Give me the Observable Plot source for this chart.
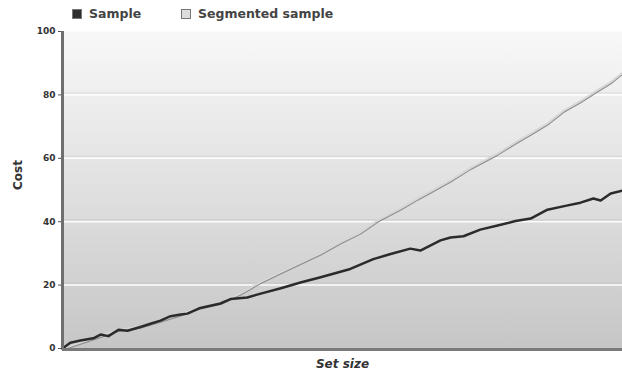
<!DOCTYPE html>
<html>
<head>
<meta charset="utf-8">
<script src="https://cdn.jsdelivr.net/npm/d3@7"></script>
<script src="https://cdn.jsdelivr.net/npm/@observablehq/plot@0.6"></script>
<style>
  html, body { margin: 0; padding: 0; background: #fff; }
  body { width: 622px; height: 374px; overflow: hidden; font-family: "DejaVu Sans", sans-serif; }
  #legend { height: 24px; position: relative; font-weight: bold; font-size: 12.5px; color: #444; }
  #legend .item { position: absolute; top: 6px; display: flex; align-items: center; }
  #legend .sw { width: 8px; height: 8px; margin-right: 7px; border: 1px solid #777; }
</style>
</head>
<body>
<div id="legend"></div>
<div id="chart"></div>
<script>
// Sample series: set size (arbitrary units 0..100) and cost
const sampleX = [0, 1.4, 3.2, 5.5, 6.8, 8.2, 10, 11.6, 13.9, 15.7, 17.5, 19.3, 21.1, 22.3, 24.6, 26.4, 28.2, 30, 33, 35.4, 39, 42.5, 46.1, 51.4, 55.5, 58.6, 62.1, 63.9, 67.5, 69.3, 71.6, 74.6, 77.7, 80.9, 83.6, 86.6, 89.8, 92.5, 94.8, 96.1, 97.9, 100];
const sampleY = [0, 1.8, 2.5, 3.2, 4.4, 3.9, 5.9, 5.6, 6.8, 7.8, 8.8, 10.2, 10.7, 11, 12.8, 13.5, 14.2, 15.6, 16.1, 17.3, 19, 20.8, 22.5, 25.1, 28.2, 29.8, 31.5, 30.9, 34.1, 35, 35.4, 37.5, 38.8, 40.2, 41, 43.8, 45, 46, 47.3, 46.7, 48.9, 49.8];

// Segmented sample series
const segX = [0, 5.5, 10, 13.9, 17.5, 21.1, 24.6, 28.2, 31.8, 35.4, 38.9, 42.5, 46.1, 49.6, 53.2, 56.3, 60.4, 63.4, 65.7, 69.3, 72.9, 77.7, 80.9, 83.6, 86.6, 89.5, 92.5, 95.5, 97.9, 100];
const segY = [0, 3.2, 5.9, 6.9, 8.8, 10.8, 13, 14.4, 17.4, 21, 24, 27, 30, 33.5, 36.6, 40.4, 44.2, 47.3, 49.5, 53, 57, 61.5, 65, 67.8, 71, 75, 78, 81.4, 84, 87];

const seriesNames = ["Sample", "Segmented sample"];
const yTicks = [0, 20, 40, 60, 80, 100];

const sample = sampleX.map((x, i) => ({x, y: sampleY[i]}));
const seg = segX.map((x, i) => ({x, y: segY[i]}));

// legend
const legend = document.getElementById("legend");
const swatches = [{fill: "#2e2e2e", left: 72}, {fill: "#dcdcdc", left: 181}];
seriesNames.forEach((name, i) => {
  const it = document.createElement("div");
  it.className = "item";
  it.style.left = swatches[i].left + "px";
  it.innerHTML = `<span class="sw" style="background:${swatches[i].fill}"></span><span>${name}</span>`;
  legend.appendChild(it);
});

const chart = Plot.plot({
  width: 622,
  height: 350,
  marginTop: 7,
  marginLeft: 62,
  marginRight: 0,
  marginBottom: 26,
  style: {fontFamily: "DejaVu Sans, sans-serif", background: "transparent", overflow: "visible"},
  x: {domain: [0, 100]},
  y: {domain: [0, 100]},
  marks: [
    Plot.frame({fill: "url(#bggrad)", stroke: null}),
    Plot.gridY(yTicks.slice(1, -1), {stroke: "#ffffff", strokeOpacity: 0.95, strokeWidth: 1.5}),
    Plot.gridY(yTicks.slice(1, -1), {stroke: "#bbbbbb", strokeOpacity: 0.35, strokeWidth: 1, dy: -2}),
    Plot.axisY(yTicks, {
      tickSize: 4, tickPadding: 3, fontSize: 9, fontWeight: "bold", fill: "#333", stroke: "#555",
      label: null
    }),
    Plot.axisX([], {label: null}),
    Plot.line(seg, {x: "x", y: "y", stroke: "#8c8c8c", strokeWidth: 2, dy: 1.2}),
    Plot.line(seg, {x: "x", y: "y", stroke: "#d6d6d6", strokeWidth: 2}),
    Plot.line(sample, {x: "x", y: "y", stroke: "#2b2b2b", strokeWidth: 2.5}),
    Plot.ruleX([0], {stroke: "#6f6f6f", strokeWidth: 3}),
    Plot.ruleY([0], {stroke: "#7a7a7a", strokeWidth: 3, dy: 1}),
    Plot.text(["Set size"], {frameAnchor: "bottom", text: d => d, dy: 19, fontSize: 12, fontWeight: "bold", fontStyle: "italic", fill: "#333"}),
    Plot.text(["Cost"], {frameAnchor: "left", text: d => d, dx: -44, rotate: -90, fontSize: 12, fontWeight: "bold", fill: "#333"})
  ]
});

const svg = d3.select(chart);
const defs = svg.insert("defs", ":first-child");
const g = defs.append("linearGradient").attr("id", "bggrad").attr("x1", 0).attr("y1", 0).attr("x2", 0).attr("y2", 1);
g.append("stop").attr("offset", "0%").attr("stop-color", "#f8f8f8");
g.append("stop").attr("offset", "50%").attr("stop-color", "#e0e0e0");
g.append("stop").attr("offset", "100%").attr("stop-color", "#c6c6c6");

document.getElementById("chart").appendChild(chart);
</script>
</body>
</html>
